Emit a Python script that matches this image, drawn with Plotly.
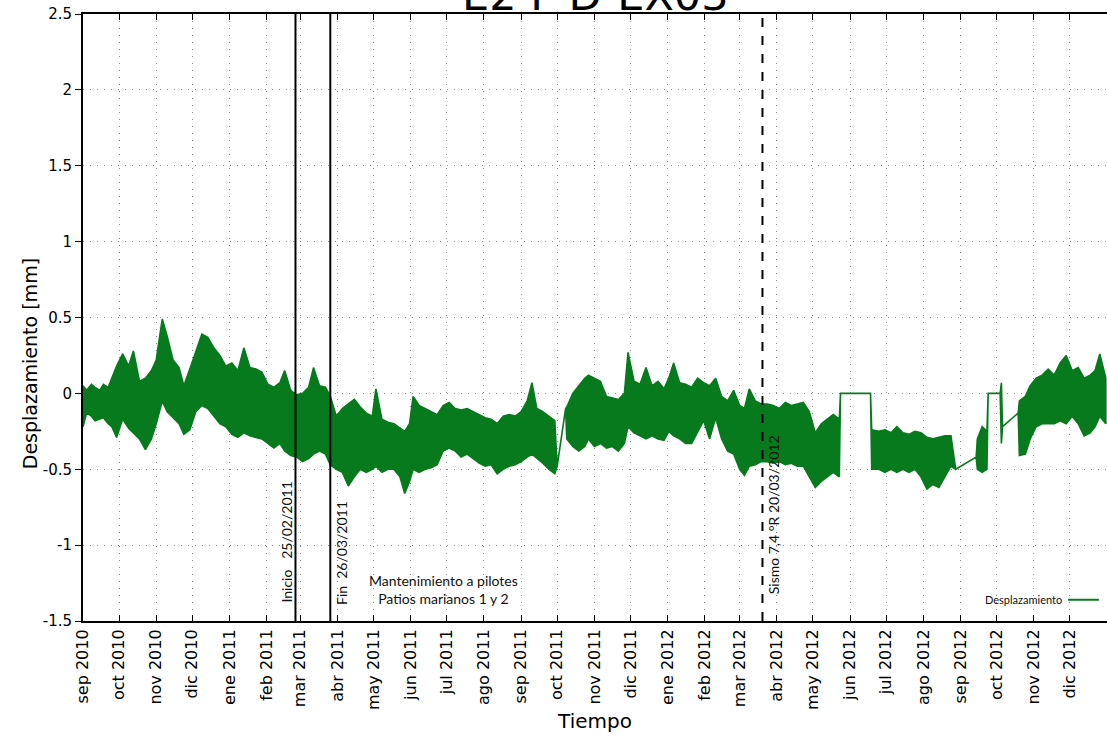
import pandas as pd
import plotly.graph_objects as go

# ---------------- data ----------------
dates = [
    "2010-09-01", "2010-09-04", "2010-09-08", "2010-09-11", "2010-09-15", "2010-09-18",
    "2010-09-22", "2010-09-25", "2010-09-29", "2010-10-04", "2010-10-09", "2010-10-13",
    "2010-10-18", "2010-10-23", "2010-10-28", "2010-11-01", "2010-11-06", "2010-11-10",
    "2010-11-15", "2010-11-20", "2010-11-24", "2010-11-29", "2010-12-04", "2010-12-09",
    "2010-12-14", "2010-12-19", "2010-12-24", "2010-12-29", "2011-01-03", "2011-01-08",
    "2011-01-13", "2011-01-18", "2011-01-23", "2011-01-28", "2011-02-02", "2011-02-07",
    "2011-02-12", "2011-02-16", "2011-02-21", "2011-02-26", "2011-03-03", "2011-03-08",
    "2011-03-12", "2011-03-17", "2011-03-22", "2011-03-26", "2011-03-31", "2011-04-05",
    "2011-04-10", "2011-04-15", "2011-04-20", "2011-04-25", "2011-04-30", "2011-05-03",
    "2011-05-08", "2011-05-13", "2011-05-18", "2011-05-23", "2011-05-27", "2011-05-31",
    "2011-06-03", "2011-06-08", "2011-06-13", "2011-06-18", "2011-06-23", "2011-06-28",
    "2011-07-03", "2011-07-08", "2011-07-13", "2011-07-18", "2011-07-23", "2011-07-28",
    "2011-08-02", "2011-08-07", "2011-08-12", "2011-08-17", "2011-08-22", "2011-08-27",
    "2011-09-01", "2011-09-06", "2011-09-10", "2011-09-14", "2011-09-19", "2011-09-24",
    "2011-09-29", "2011-10-01", "2011-10-08", "2011-10-09", "2011-10-14", "2011-10-19",
    "2011-10-24", "2011-10-27", "2011-11-01", "2011-11-06", "2011-11-11", "2011-11-16",
    "2011-11-21", "2011-11-26", "2011-11-29", "2011-12-04", "2011-12-09", "2011-12-14",
    "2011-12-19", "2011-12-24", "2011-12-29", "2012-01-02", "2012-01-06", "2012-01-11",
    "2012-01-16", "2012-01-21", "2012-01-26", "2012-01-31", "2012-02-05", "2012-02-10",
    "2012-02-15", "2012-02-20", "2012-02-25", "2012-03-01", "2012-03-05", "2012-03-09",
    "2012-03-14", "2012-03-19", "2012-03-24", "2012-03-29", "2012-04-03", "2012-04-08",
    "2012-04-13", "2012-04-18", "2012-04-23", "2012-04-28", "2012-05-03", "2012-05-08",
    "2012-05-13", "2012-05-18", "2012-05-23", "2012-05-24", "2012-06-18", "2012-06-19",
    "2012-06-25", "2012-06-30", "2012-07-05", "2012-07-10", "2012-07-15", "2012-07-20",
    "2012-07-25", "2012-07-30", "2012-08-04", "2012-08-09", "2012-08-14", "2012-08-19",
    "2012-08-24", "2012-08-28", "2012-09-14", "2012-09-15", "2012-09-19", "2012-09-23",
    "2012-09-24", "2012-10-04", "2012-10-05", "2012-10-06", "2012-10-19", "2012-10-20",
    "2012-10-25", "2012-10-29", "2012-11-03", "2012-11-08", "2012-11-13", "2012-11-18",
    "2012-11-23", "2012-11-28", "2012-12-03", "2012-12-08", "2012-12-13", "2012-12-18",
    "2012-12-22", "2012-12-26", "2012-12-31",
]

upper = [
    0.05, 0.02, 0.06, 0.04, 0.02, 0.06,
    0.04, 0.10, 0.18, 0.26, 0.18, 0.28,
    0.08, 0.10, 0.15, 0.22, 0.49, 0.38,
    0.22, 0.17, 0.05, 0.16, 0.28, 0.39,
    0.37, 0.30, 0.25, 0.18, 0.20, 0.15,
    0.30, 0.17, 0.16, 0.14, 0.06, 0.04,
    0.07, 0.15, 0.02, -0.01, 0.00, 0.04,
    0.17, 0.05, 0.04, -0.02, -0.15, -0.10,
    -0.07, -0.04, -0.09, -0.13, -0.15, 0.03,
    -0.17, -0.19, -0.20, -0.23, -0.25, -0.20,
    -0.02, -0.08, -0.10, -0.12, -0.14, -0.08,
    -0.06, -0.10, -0.11, -0.10, -0.12, -0.14,
    -0.16, -0.17, -0.20, -0.15, -0.14, -0.15,
    -0.12, -0.05, 0.07, -0.10, -0.12, -0.15,
    -0.18, -0.48, -0.10, -0.09, 0.00, 0.05,
    0.10, 0.12, 0.10, 0.08, -0.02, -0.03,
    -0.04, 0.00, 0.27, 0.08, 0.06, 0.17,
    0.05, 0.08, 0.03, 0.10, 0.20, 0.07,
    0.06, 0.04, 0.10, 0.07, 0.05, 0.10,
    -0.02, -0.05, 0.02, -0.08, -0.10, 0.03,
    -0.05, -0.07, -0.07, -0.08, -0.10, -0.06,
    -0.08, -0.07, -0.06, -0.12, -0.26, -0.20,
    -0.17, -0.14, -0.17, 0.00, 0.00, -0.24,
    -0.25, -0.24, -0.26, -0.22, -0.26, -0.27,
    -0.25, -0.26, -0.29, -0.30, -0.29, -0.28,
    -0.28, -0.50, -0.42, -0.30, -0.22, -0.25,
    0.00, 0.00, 0.07, -0.22, -0.13, -0.05,
    -0.02, 0.05, 0.10, 0.12, 0.16, 0.12,
    0.20, 0.25, 0.15, 0.17, 0.10, 0.12,
    0.15, 0.26, 0.10,
]

lower = [
    -0.22, -0.13, -0.15, -0.18, -0.17, -0.16,
    -0.20, -0.22, -0.29, -0.17, -0.23, -0.26,
    -0.30, -0.37, -0.30, -0.20, -0.05, -0.12,
    -0.16, -0.20, -0.27, -0.24, -0.12, -0.08,
    -0.10, -0.15, -0.20, -0.22, -0.27, -0.29,
    -0.26, -0.28, -0.29, -0.30, -0.33, -0.36,
    -0.33, -0.38, -0.41, -0.42, -0.45, -0.43,
    -0.40, -0.38, -0.40, -0.47, -0.50, -0.52,
    -0.61, -0.55, -0.50, -0.52, -0.50, -0.48,
    -0.52, -0.50, -0.50, -0.55, -0.66, -0.58,
    -0.50, -0.52, -0.50, -0.49, -0.47, -0.38,
    -0.36, -0.38, -0.42, -0.40, -0.43, -0.46,
    -0.48, -0.47, -0.53, -0.50, -0.48, -0.47,
    -0.45, -0.42, -0.40, -0.43, -0.46, -0.50,
    -0.53, -0.48, -0.10, -0.30, -0.35, -0.38,
    -0.35, -0.30, -0.35, -0.33, -0.36, -0.35,
    -0.38, -0.33, -0.22, -0.26, -0.28, -0.30,
    -0.28, -0.30, -0.31, -0.25, -0.28, -0.30,
    -0.33, -0.33, -0.25, -0.18, -0.30, -0.16,
    -0.30, -0.38, -0.40, -0.50, -0.54, -0.48,
    -0.47, -0.45, -0.45, -0.46, -0.45, -0.47,
    -0.46, -0.48, -0.48, -0.55, -0.62, -0.58,
    -0.55, -0.52, -0.55, 0.00, 0.00, -0.50,
    -0.50, -0.52, -0.50, -0.52, -0.50, -0.52,
    -0.50, -0.55, -0.63, -0.60, -0.62, -0.55,
    -0.48, -0.50, -0.42, -0.50, -0.52, -0.50,
    0.00, 0.00, -0.33, -0.22, -0.13, -0.41,
    -0.40, -0.30, -0.22, -0.20, -0.20, -0.20,
    -0.18, -0.20, -0.15, -0.20, -0.28, -0.26,
    -0.22, -0.15, -0.20,
]

tick_dates = [
    "2010-09-01", "2010-10-01", "2010-11-01", "2010-12-01", "2011-01-01", "2011-02-01",
    "2011-03-01", "2011-04-01", "2011-05-01", "2011-06-01", "2011-07-01", "2011-08-01",
    "2011-09-01", "2011-10-01", "2011-11-01", "2011-12-01", "2012-01-01", "2012-02-01",
    "2012-03-01", "2012-04-01", "2012-05-01", "2012-06-01", "2012-07-01", "2012-08-01",
    "2012-09-01", "2012-10-01", "2012-11-01", "2012-12-01",
]
tick_labels = [
    "sep 2010", "oct 2010", "nov 2010", "dic 2010", "ene 2011", "feb 2011",
    "mar 2011", "abr 2011", "may 2011", "jun 2011", "jul 2011", "ago 2011",
    "sep 2011", "oct 2011", "nov 2011", "dic 2011", "ene 2012", "feb 2012",
    "mar 2012", "abr 2012", "may 2012", "jun 2012", "jul 2012", "ago 2012",
    "sep 2012", "oct 2012", "nov 2012", "dic 2012",
]
y_ticks = [-1.5, -1, -0.5, 0, 0.5, 1, 1.5, 2, 2.5]
y_tick_labels = ["-1.5", "-1", "-0.5", "0", "0.5", "1", "1.5", "2", "2.5"]

inicio_date = "2011-02-25"
fin_date = "2011-03-26"
sismo_date = "2012-03-20"

GREEN = "#067a1c"

# ---------------- band between the read high / low envelopes ----------------
d = list(pd.to_datetime(dates))
band_x = d + d[::-1]
band_y = upper + lower[::-1]

fig = go.Figure()
fig.add_trace(go.Scatter(
    x=band_x, y=band_y, mode="lines", fill="toself", fillcolor=GREEN,
    name="Desplazamiento", line=dict(color=GREEN, width=1.6), showlegend=False,
    hoverinfo="skip",
))

# vertical event lines
for dt, dash in [(inicio_date, "solid"), (fin_date, "solid"), (sismo_date, "dash")]:
    fig.add_shape(type="line", xref="x", yref="paper", x0=dt, x1=dt, y0=0, y1=1,
                  line=dict(color="black", width=2, dash=dash))

ann_font = dict(family="Lato, Carlito, sans-serif", size=14, color="#111")
fig.add_annotation(x=inicio_date, y=-0.98, xref="x", yref="y", text="Inicio   25/02/2011",
                   textangle=-90, showarrow=False, xshift=-9, font=ann_font)
fig.add_annotation(x=fin_date, y=-1.05, xref="x", yref="y", text="Fin  26/03/2011",
                   textangle=-90, showarrow=False, xshift=11, font=ann_font)
fig.add_annotation(x=sismo_date, y=-0.80, xref="x", yref="y", text="Sismo 7,4 °R 20/03/2012",
                   textangle=-90, showarrow=False, xshift=11, font=ann_font)
fig.add_annotation(x="2011-06-28", y=-1.29, xref="x", yref="y",
                   text="Mantenimiento a pilotes<br>Patios marianos 1 y 2",
                   showarrow=False, font=dict(family="Lato, sans-serif", size=14, color="#111"))

# legend (text followed by line sample, as in the reference)
fig.add_annotation(x=0.958, y=0.035, xref="paper", yref="paper", text="Desplazamiento",
                   xanchor="right", yanchor="middle", showarrow=False,
                   font=dict(family="Lato, sans-serif", size=11, color="#111"))
fig.add_shape(type="line", xref="paper", yref="paper", x0=0.962, x1=0.992, y0=0.035, y1=0.035,
              line=dict(color=GREEN, width=2))

# title (partially cut by the top edge, as in the reference)
fig.add_annotation(x=0.5, y=1, xref="paper", yref="paper", text="E2 F D-EX03",
                   xanchor="center", yanchor="bottom", yshift=-8, showarrow=False,
                   font=dict(family="DejaVu Sans, sans-serif", size=43, color="black"))

# y-axis title
fig.add_annotation(x=0, y=0.423, xref="paper", yref="paper", text="Desplazamiento [mm]",
                   textangle=-90, xanchor="center", yanchor="middle", xshift=-53,
                   showarrow=False,
                   font=dict(family="DejaVu Sans, sans-serif", size=19, color="black"))

axis_font = dict(family="DejaVu Sans, sans-serif", size=15, color="black")
xtick_font = dict(family="DejaVu Sans, sans-serif", size=16, color="black")
grid_kw = dict(showgrid=True, gridcolor="#8a8a8a", griddash="1px,6px", gridwidth=1)
fig.update_layout(
    width=1107, height=740,
    margin=dict(l=83, r=0, t=14, b=119, autoexpand=False),
    paper_bgcolor="white", plot_bgcolor="white",
    showlegend=False,
)
fig.update_xaxes(
    range=["2010-09-01", "2013-01-01"], automargin=False,
    tickvals=tick_dates, ticktext=tick_labels, tickangle=-90,
    tickfont=xtick_font,
    ticks="inside", ticklen=6, tickcolor="black", tickwidth=1,
    showline=True, linecolor="black", linewidth=2, mirror="allticks",
    zeroline=False, **grid_kw,
    title=dict(text="Tiempo", font=dict(family="DejaVu Sans, sans-serif", size=20, color="black"),
               standoff=5),
)
fig.update_yaxes(
    range=[-1.5, 2.5], automargin=False,
    tickvals=y_ticks, ticktext=y_tick_labels,
    tickfont=axis_font,
    ticks="outside", ticklen=6, tickcolor="black", tickwidth=1,
    showline=True, linecolor="black", linewidth=2, mirror=True,
    zeroline=False, **grid_kw,
)

fig.write_html("out.html", config={"displayModeBar": False},
               post_script="document.body.style.margin='0px';")
